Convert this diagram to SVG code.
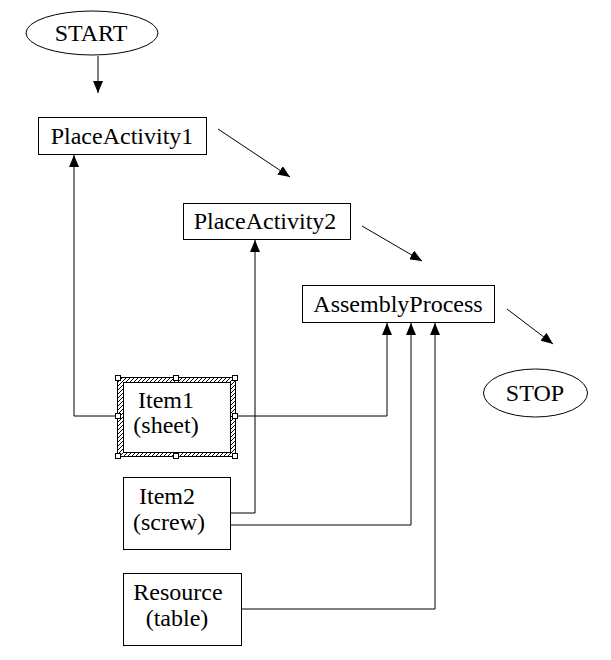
<svg xmlns="http://www.w3.org/2000/svg" width="611" height="660" viewBox="0 0 611 660">
<style>
.box{fill:#fff;stroke:#000;stroke-width:1}
.t{font-family:"Liberation Serif","Times New Roman",serif;font-size:24px;fill:#000;text-anchor:middle}
.c{fill:none;stroke:#000;stroke-width:1}
.h{fill:#fff;stroke:#000;stroke-width:1}
</style>
<defs>
<marker id="ah" viewBox="0 0 12 10" refX="12" refY="5" markerWidth="12" markerHeight="10" markerUnits="userSpaceOnUse" orient="auto">
<path d="M0,0 L12,5 L0,10 Z" fill="#000"/>
</marker>
<pattern id="hatch" width="4" height="4" patternUnits="userSpaceOnUse">
<rect width="4" height="4" fill="#fff"/>
<path d="M-1,1 L1,-1 M0,4 L4,0 M3,5 L5,3" stroke="#000" stroke-width="1"/>
</pattern>
</defs>
<rect width="611" height="660" fill="#fff"/>
<g id="connectors">
<line class="c" x1="98" y1="56" x2="98" y2="93" marker-end="url(#ah)"/>
<line class="c" x1="218" y1="129" x2="290" y2="177" marker-end="url(#ah)"/>
<line class="c" x1="362" y1="226" x2="422" y2="261" marker-end="url(#ah)"/>
<line class="c" x1="507" y1="309" x2="553" y2="344" marker-end="url(#ah)"/>
<polyline class="c" points="116,416 74,416 74,155" marker-end="url(#ah)"/>
<polyline class="c" points="237,416 387,416 387,323" marker-end="url(#ah)"/>
<polyline class="c" points="231,513 255,513 255,240" marker-end="url(#ah)"/>
<polyline class="c" points="231,525 411,525 411,323" marker-end="url(#ah)"/>
<polyline class="c" points="242,609 435,609 435,323" marker-end="url(#ah)"/>
</g>
<g id="start">
<ellipse class="box" cx="92" cy="33" rx="66" ry="22"/>
<text class="t" x="91" y="41">START</text>
</g>
<g id="placeactivity1">
<rect class="box" x="38.5" y="117.5" width="168" height="37"/>
<text class="t" x="122" y="144">PlaceActivity1</text>
</g>
<g id="placeactivity2">
<rect class="box" x="183.5" y="203.5" width="167" height="36"/>
<text class="t" x="265" y="229">PlaceActivity2</text>
</g>
<g id="assemblyprocess">
<rect class="box" x="302.5" y="285.5" width="192" height="37"/>
<text class="t" x="398" y="312">AssemblyProcess</text>
</g>
<g id="stop">
<ellipse class="box" cx="535.5" cy="393" rx="52" ry="24"/>
<text class="t" x="535" y="401">STOP</text>
</g>
<g id="item1">
<rect x="117.5" y="377.5" width="118" height="79" fill="url(#hatch)" stroke="#000" stroke-width="1"/>
<rect class="box" x="123.5" y="382.5" width="107" height="70"/>
<rect class="h" x="115.5" y="375.5" width="5" height="5"/>
<rect class="h" x="173.5" y="375.5" width="5" height="5"/>
<rect class="h" x="232.5" y="375.5" width="5" height="5"/>
<rect class="h" x="115.5" y="413.5" width="5" height="5"/>
<rect class="h" x="232.5" y="413.5" width="5" height="5"/>
<rect class="h" x="115.5" y="453.5" width="5" height="5"/>
<rect class="h" x="173.5" y="453.5" width="5" height="5"/>
<rect class="h" x="232.5" y="453.5" width="5" height="5"/>
<text class="t" x="166" y="408">Item1</text>
<text class="t" x="166" y="433">(sheet)</text>
</g>
<g id="item2">
<rect class="box" x="123.5" y="477.5" width="107" height="72"/>
<text class="t" x="167" y="504">Item2</text>
<text class="t" x="169" y="530">(screw)</text>
</g>
<g id="resource">
<rect class="box" x="123.5" y="573.5" width="118" height="72"/>
<text class="t" x="178" y="600">Resource</text>
<text class="t" x="177" y="626">(table)</text>
</g>
</svg>
